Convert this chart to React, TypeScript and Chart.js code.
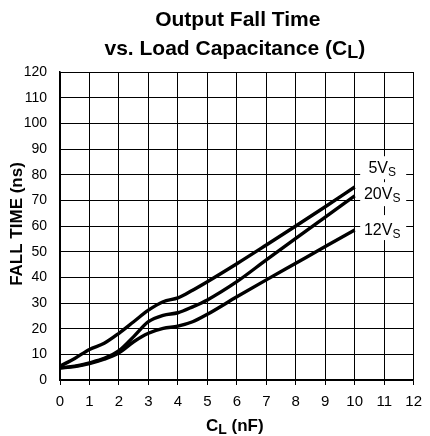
import React, { useEffect, useRef } from "react";
import { Chart, registerables } from "chart.js";

Chart.register(...registerables);

const CL_NF = [0, 0.5, 1, 1.5, 2, 2.5, 3, 3.5, 4, 4.5, 5, 6, 7, 8, 9, 10];
const FALL_5VS = [5.4, 8.4, 11.9, 14.3, 18.2, 22.7, 27.2, 30.5, 32, 35, 38.3, 45.3, 52.6, 60, 67.5, 75.2];
const FALL_20VS = [4.7, 5.4, 6.7, 8.4, 11.4, 16.9, 22.7, 25.2, 26.2, 28.5, 31.2, 38.3, 46.8, 55.2, 63.5, 71.7];
const FALL_12VS = [4.7, 5.2, 6.4, 8.1, 10.6, 14.9, 18.2, 20.1, 21, 22.7, 25.6, 32.4, 39, 45.5, 52, 58.4];
const SERIES_LABELS = ["5V", "20V", "12V"];
const LABEL_Y = [82.9, 72.8, 58.8];
const X_TICKS_MAX = 12;
const Y_TICKS_MAX = 120;

const FONT = '"Liberation Sans", Arial, sans-serif';

type Run = { text: string; sub?: boolean };

function drawRuns(ctx: CanvasRenderingContext2D, runs: Run[], cx: number, baseline: number, size: number, bold: boolean, subScale: number, subDrop: number) {
  const w = (r: Run) => {
    ctx.font = `${bold ? "bold " : ""}${r.sub ? Math.round(size * subScale) : size}px ${FONT}`;
    return ctx.measureText(r.text).width;
  };
  const total = runs.reduce((s, r) => s + w(r), 0);
  let x = cx - total / 2;
  ctx.textAlign = "left";
  ctx.textBaseline = "alphabetic";
  ctx.fillStyle = "#000";
  for (const r of runs) {
    ctx.font = `${bold ? "bold " : ""}${r.sub ? Math.round(size * subScale) : size}px ${FONT}`;
    ctx.fillText(r.text, x, baseline + (r.sub ? subDrop : 0));
    x += ctx.measureText(r.text).width;
  }
}

const annotPlugin = {
  id: "annot",
  afterDraw(chart: any) {
    const ctx: CanvasRenderingContext2D = chart.ctx;
    const xs = chart.scales.x;
    const ys = chart.scales.y;
    const area = chart.chartArea;
    ctx.save();
    const tcx = (area.left + area.right) / 2;
    drawRuns(ctx, [{ text: "Output Fall Time" }], tcx + 1, 26, 21, true, 0.85, 3);
    drawRuns(ctx, [{ text: "vs. Load Capacitance (C" }, { text: "L", sub: true }, { text: ")" }], tcx - 2, 55, 21, true, 0.85, 3);
    drawRuns(ctx, [{ text: "C" }, { text: "L", sub: true }, { text: " (nF)" }], tcx - 2, 431, 17, true, 0.8, 3);
    ctx.save();
    ctx.translate(22, (area.top + area.bottom) / 2 - 2);
    ctx.rotate(-Math.PI / 2);
    drawRuns(ctx, [{ text: "FALL TIME (ns)" }], 0, 0, 17, true, 0.8, 3);
    ctx.restore();
    const boxes = [
      [-11, 12],
      [-11, 13],
      [-14, 11],
    ];
    const cx = xs.getPixelForValue(11);
    SERIES_LABELS.forEach((lab, i) => {
      const cy = ys.getPixelForValue(LABEL_Y[i]);
      ctx.fillStyle = "#fff";
      ctx.fillRect(cx - 24, cy + boxes[i][0], 46, boxes[i][1] - boxes[i][0]);
      drawRuns(ctx, [{ text: lab }, { text: "S", sub: true }], cx - 2, cy + 6, 16, false, 0.75, 3);
    });
    ctx.restore();
  },
};

export default function App() {
  const ref = useRef<HTMLCanvasElement>(null);
  useEffect(() => {
    if (!ref.current) return;
    const mk = (ys: number[]) => CL_NF.map((x, i) => ({ x, y: ys[i] }));
    const lineStyle = {
      borderColor: "#000",
      borderWidth: 3.4,
      pointRadius: 0,
      fill: false,
      cubicInterpolationMode: "monotone" as const,
      tension: 0.4,
    };
    const chart = new Chart(ref.current, {
      type: "line",
      data: {
        datasets: [
          { label: "5VS", data: mk(FALL_5VS), ...lineStyle },
          { label: "20VS", data: mk(FALL_20VS), ...lineStyle },
          { label: "12VS", data: mk(FALL_12VS), ...lineStyle },
        ],
      },
      options: {
        animation: false,
        responsive: false,
        layout: { padding: { top: 72, right: 10, left: 0, bottom: 0 } },
        plugins: { legend: { display: false }, title: { display: false }, tooltip: { enabled: false } },
        scales: {
          x: {
            type: "linear",
            min: 0,
            max: X_TICKS_MAX,
            ticks: { stepSize: 1, color: "#000", font: { family: FONT, size: 15 }, padding: 8, maxRotation: 0, autoSkip: false },
            grid: { color: "#000", lineWidth: 1, drawTicks: true, tickLength: 5, tickColor: "#000" },
            border: { color: "#000", width: 1.5 },
            afterFit: (s: any) => {
              s.height = 56;
            },
          },
          y: {
            type: "linear",
            min: 0,
            max: Y_TICKS_MAX,
            ticks: { stepSize: 10, color: "#000", font: { family: FONT, size: 14 }, padding: 13 },
            grid: { color: "#000", lineWidth: 1, drawTicks: false },
            border: { color: "#000", width: 1.5 },
            afterFit: (s: any) => {
              s.width = 60;
            },
          },
        },
      },
      plugins: [annotPlugin],
    });
    return () => chart.destroy();
  }, []);
  return (
    <div style={{ position: "absolute", left: 0, top: 0, width: 430, height: 436, background: "#fff" }}>
      <canvas ref={ref} width={430} height={436} />
    </div>
  );
}
